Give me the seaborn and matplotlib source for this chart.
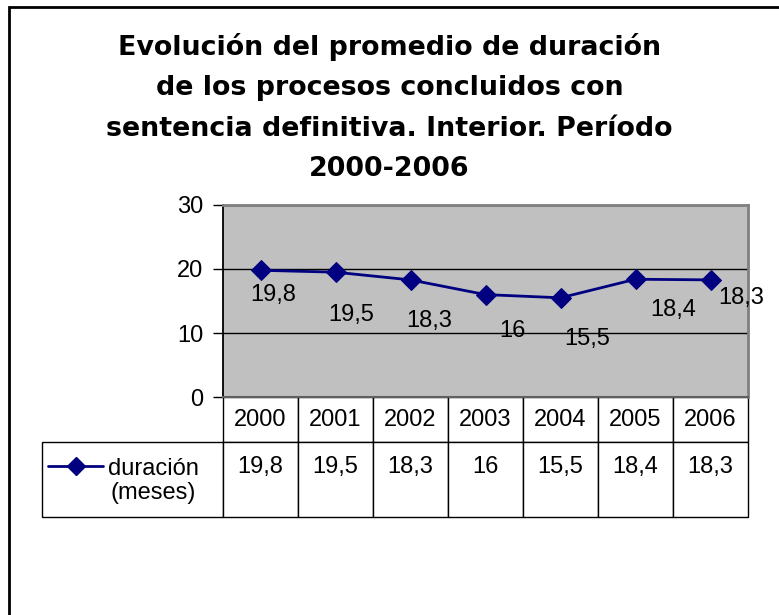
import matplotlib
matplotlib.use('Agg')
import matplotlib.pyplot as plt
import seaborn as sns
import pandas as pd
from matplotlib.lines import Line2D
from matplotlib.patches import Rectangle

# ---- data ----
years = ['2000', '2001', '2002', '2003', '2004', '2005', '2006']
duracion = [19.8, 19.5, 18.3, 16, 15.5, 18.4, 18.3]
series_name = 'duración\n(meses)'
y_ticks = [0, 10, 20, 30]
title = ('Evolución del promedio de duración\n'
         'de los procesos concluidos con\n'
         'sentencia definitiva. Interior. Período\n'
         '2000-2006')

# label offsets (pixels right, pixels down) as placed in the reference
label_offsets_px = [(13, 25), (16, 43), (19, 41), (27, 36), (27, 41), (38, 31), (31, 18)]


def fmt(v):
    return f'{v:g}'.replace('.', ',')


W, H = 779, 615
NAVY = '#000080'
sns.set_style('white')
plt.rcParams['font.family'] = ['Liberation Sans', 'DejaVu Sans']
plt.rcParams['text.color'] = 'black'
plt.rcParams['axes.labelcolor'] = 'black'
plt.rcParams['xtick.color'] = 'black'
plt.rcParams['ytick.color'] = 'black'

fig = plt.figure(figsize=(W / 100, H / 100), dpi=100)
fig.patch.set_facecolor('white')

L, R, T, B = 223, 748, 205, 397
ax = fig.add_axes([L / W, 1 - B / H, (R - L) / W, (B - T) / H])
ax.set_facecolor('#C0C0C0')

df = pd.DataFrame({'year': years, 'dur': duracion})
sns.lineplot(data=df, x='year', y='dur', ax=ax, color=NAVY, marker='D',
             markersize=10, linewidth=2, markeredgecolor=NAVY, zorder=3)

ax.set_xlim(-0.5, len(years) - 0.5)
ax.set_ylim(0, 30)
ax.set_yticks(y_ticks)
ax.set_xticks([])
ax.set_xlabel('')
ax.set_ylabel('')
ax.yaxis.grid(True, color='black', linewidth=1)
ax.set_axisbelow(True)
ax.tick_params(axis='y', length=7, width=1, direction='out', color='black',
               labelsize=17, pad=7, left=True, labelcolor='black')
for s in ['top', 'right']:
    ax.spines[s].set_color('#808080')
    ax.spines[s].set_linewidth(2)
ax.spines['left'].set_color('black')
ax.spines['left'].set_linewidth(1.3)
ax.spines['bottom'].set_color('#606060')
ax.spines['bottom'].set_linewidth(1.5)

for i, (v, (dx, dy)) in enumerate(zip(duracion, label_offsets_px)):
    ax.annotate(fmt(v), xy=(i, v), xytext=(dx * 0.72, -dy * 0.72),
                textcoords='offset points', ha='center', va='center',
                fontsize=17, color='black', annotation_clip=False, clip_on=False)

# ---- data table: first column is the legend cell ----
tb_left, tb_bottom = 42, 517
pw, ph = R - L, B - T
cell_text = [[''] + [fmt(v) + '\n' for v in duracion]]
col_labels = [''] + years
tbl = ax.table(cellText=cell_text, colLabels=col_labels, cellLoc='center',
               bbox=[(tb_left - L) / pw, (B - tb_bottom) / ph,
                     (R - tb_left) / pw, (tb_bottom - B) / ph])
tbl.auto_set_font_size(False)
tbl.set_fontsize(17)
for (r, c), cell in tbl.get_celld().items():
    cell.set_edgecolor('black')
    cell.set_linewidth(1)
    cell.set_facecolor('white')
    cell.set_height(45 if r == 0 else 75)
    cell.set_width(L - tb_left if c == 0 else 75)
    cell.get_text().set_color('black')
    if r == 0 and c == 0:
        cell.visible_edges = ''
        cell.set_facecolor('none')

# legend key inside the first cell
key_y = 1 - 466 / H
fig.add_artist(Line2D([48 / W, 103 / W], [key_y, key_y], color=NAVY, lw=2,
                      transform=fig.transFigure))
fig.add_artist(Line2D([76 / W], [key_y], color=NAVY, marker='D', markersize=9,
                      transform=fig.transFigure))
fig.text(108 / W, 1 - 481 / H, series_name, ha='left', va='center',
         multialignment='center', fontsize=17, linespacing=1.15, color='black')

# ---- title ----
fig.text(0.5, 1 - 107.5 / H, title, ha='center', va='center', fontsize=19.4,
         fontweight='bold', family='DejaVu Sans', linespacing=1.72, color='black')

# ---- outer frame ----
fig.add_artist(Rectangle((9 / W, -0.1), 1.2, 1 - 7 / H + 0.1, fill=False,
                         lw=2, ec='black', transform=fig.transFigure))

fig.savefig('out.png', dpi=100)
